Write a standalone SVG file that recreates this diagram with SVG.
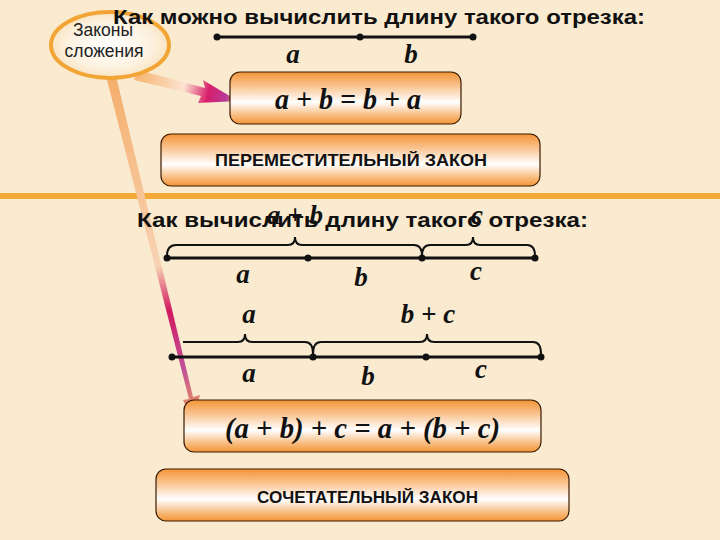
<svg xmlns="http://www.w3.org/2000/svg" width="720" height="540" viewBox="0 0 720 540">
<defs>
<linearGradient id="boxg" x1="0" y1="0" x2="0" y2="1">
<stop offset="0" stop-color="#F39436"/>
<stop offset="0.25" stop-color="#F9C089"/>
<stop offset="0.58" stop-color="#FFFFFF"/>
<stop offset="0.85" stop-color="#F8B878"/>
<stop offset="1" stop-color="#F39436"/>
</linearGradient>
<radialGradient id="ellg" cx="0.5" cy="0.5" r="0.5">
<stop offset="0" stop-color="#FFFFFF"/>
<stop offset="0.7" stop-color="#FDF2E0"/>
<stop offset="1" stop-color="#F9E4C4"/>
</radialGradient>
<linearGradient id="a1g" gradientUnits="userSpaceOnUse" x1="140" y1="75" x2="238" y2="100">
<stop offset="0" stop-color="#F7B877"/>
<stop offset="0.45" stop-color="#FBE3D0"/>
<stop offset="0.7" stop-color="#D81E6A"/>
<stop offset="0.88" stop-color="#B63A9A"/>
<stop offset="1" stop-color="#F0A050"/>
</linearGradient>
<linearGradient id="a2g" gradientUnits="userSpaceOnUse" x1="112" y1="78" x2="195" y2="420">
<stop offset="0" stop-color="#F5AE6C"/>
<stop offset="0.55" stop-color="#F8D2B4"/>
<stop offset="0.68" stop-color="#D21A5E"/>
<stop offset="0.85" stop-color="#C0509A"/>
<stop offset="1" stop-color="#F0A050"/>
</linearGradient>
<style>
.ttl{font-family:"Liberation Sans",Arial,sans-serif;font-weight:bold;font-size:21px;fill:#111}
.law{font-family:"Liberation Sans",Arial,sans-serif;font-weight:bold;font-size:17px;fill:#111}
.var{font-family:"Liberation Serif","Times New Roman",serif;font-weight:bold;font-style:italic;font-size:27px;fill:#111}
.eq{font-family:"Liberation Serif","Times New Roman",serif;font-weight:bold;font-style:italic;font-size:30px;fill:#111}
.box{fill:url(#boxg);stroke:#3A1A00;stroke-width:1.2}
.seg{stroke:#111;stroke-width:3;fill:none}
.br{stroke:#111;stroke-width:2;fill:none}
.dot{fill:#111}
.ell{font-family:"Liberation Sans",Arial,sans-serif;font-size:17.5px;fill:#222}
</style>
</defs>
<rect width="720" height="540" fill="#FAEBD0"/>
<rect x="0" y="193" width="720" height="6" fill="#F3A935"/>

<g id="connectors">
<polygon points="138,70 205,88 203,80 238,101 198,103 201,96 134,80" fill="url(#a1g)"/>
<polygon points="106,76 116,76 193,397 200,395 193,421 183,400 189,399" fill="url(#a2g)"/>
</g>

<g id="node-laws">
<ellipse cx="110" cy="45" rx="59" ry="33" fill="url(#ellg)" stroke="#F2A535" stroke-width="4"/>
<text class="ell" x="103" y="36" text-anchor="middle">Законы</text>
<text class="ell" x="104" y="57" text-anchor="middle">сложения</text>
</g>

<g id="title1">
<text class="ttl" x="113" y="24" textLength="532" lengthAdjust="spacingAndGlyphs">Как можно вычислить длину такого отрезка:</text>
<line class="seg" x1="217" y1="37" x2="473" y2="37"/>
<circle class="dot" cx="217" cy="37" r="3.5"/>
<circle class="dot" cx="360" cy="37" r="3.5"/>
<circle class="dot" cx="473" cy="37" r="3.5"/>
<text class="var" x="293" y="63" text-anchor="middle">a</text>
<text class="var" x="411" y="63" text-anchor="middle">b</text>
</g>

<g id="node-eq1">
<rect class="box" x="230" y="72" width="231" height="52" rx="10"/>
<text class="eq" x="275" y="109" textLength="146" lengthAdjust="spacingAndGlyphs">a + b = b + a</text>
</g>

<g id="node-law1">
<rect class="box" x="161" y="134" width="379" height="52" rx="10"/>
<text class="law" x="215" y="166" textLength="272" lengthAdjust="spacingAndGlyphs">ПЕРЕМЕСТИТЕЛЬНЫЙ ЗАКОН</text>
</g>

<g id="title2">
<text class="ttl" x="137" y="227" textLength="451" lengthAdjust="spacingAndGlyphs">Как вычислить длину такого отрезка:</text>
<text class="var" x="295" y="224" text-anchor="middle">a + b</text>
<text class="var" x="477" y="224" text-anchor="middle">c</text>
</g>

<g id="diagram1">
<path class="br" d="M167,256 Q167,245 176,245 L288,245 Q295,245 295,237 Q295,245 302,245 L414,245 Q422,245 422,256"/>
<path class="br" d="M422,256 Q422,245 430,245 L466,245 Q473,245 473,237 Q473,245 480,245 L527,245 Q535,245 535,256"/>
<line class="seg" x1="167" y1="258" x2="535" y2="258"/>
<circle class="dot" cx="167" cy="258" r="3.5"/>
<circle class="dot" cx="308" cy="258" r="3.5"/>
<circle class="dot" cx="422" cy="258" r="3.5"/>
<circle class="dot" cx="535" cy="258" r="3.5"/>
<text class="var" x="243" y="283" text-anchor="middle">a</text>
<text class="var" x="361" y="286" text-anchor="middle">b</text>
<text class="var" x="476" y="280" text-anchor="middle">c</text>
</g>

<g id="diagram2">
<text class="var" x="249" y="323" text-anchor="middle">a</text>
<text class="var" x="428" y="323" text-anchor="middle">b + c</text>
<path class="br" d="M183,342 L238,342 Q245,342 245,334 Q245,342 252,342 L305,342 Q313,342 313,354"/>
<path class="br" d="M313,354 Q313,342 321,342 L420,342 Q427,342 427,334 Q427,342 434,342 L533,342 Q541,342 541,354"/>
<line class="seg" x1="172" y1="357" x2="541" y2="357"/>
<circle class="dot" cx="172" cy="357" r="3.5"/>
<circle class="dot" cx="313" cy="357" r="3.5"/>
<circle class="dot" cx="426" cy="357" r="3.5"/>
<circle class="dot" cx="541" cy="357" r="3.5"/>
<text class="var" x="249" y="382" text-anchor="middle">a</text>
<text class="var" x="368" y="385" text-anchor="middle">b</text>
<text class="var" x="481" y="378" text-anchor="middle">c</text>
</g>

<g id="node-eq2">
<rect class="box" x="184" y="400" width="357" height="52" rx="10"/>
<text class="eq" x="225" y="438" textLength="275" lengthAdjust="spacingAndGlyphs">(a + b) + c = a + (b + c)</text>
</g>

<g id="node-law2">
<rect class="box" x="156" y="469" width="413" height="52" rx="10"/>
<text class="law" x="257" y="503" textLength="221" lengthAdjust="spacingAndGlyphs">СОЧЕТАТЕЛЬНЫЙ ЗАКОН</text>
</g>
</svg>
